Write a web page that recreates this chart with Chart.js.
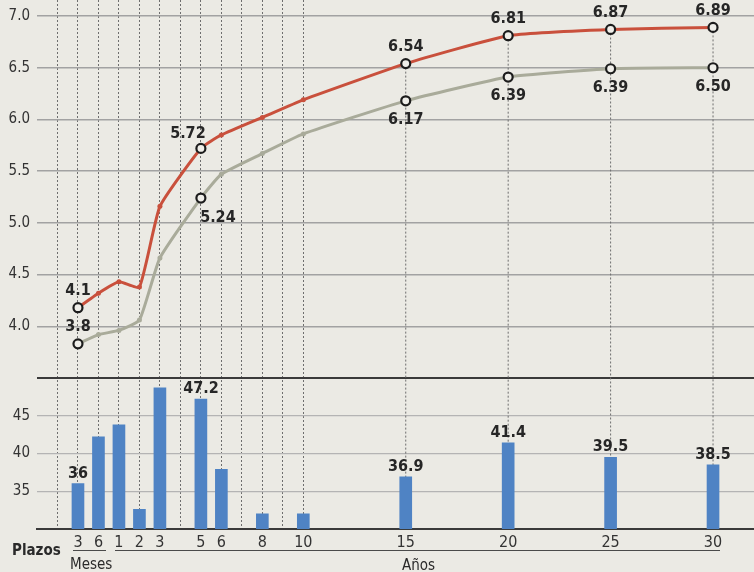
<!DOCTYPE html>
<html>
<head>
<meta charset="utf-8">
<script src="https://cdn.jsdelivr.net/npm/chart.js@4.4.1/dist/chart.umd.min.js"></script>
<style>
  html, body { margin: 0; padding: 0; background: #ebeae4; }
  #wrap { position: relative; width: 754px; height: 572px; color: #2a2a2a;
          font-family: 'Liberation Sans Narrow', 'DejaVu Sans Condensed', 'Liberation Sans', sans-serif; }
  #chart { position: absolute; left: 0; top: 0; }
  .note { position: absolute; font-size: 15px; line-height: 1; white-space: nowrap; }
  .rule { position: absolute; height: 0; border-top: 1.5px solid #4a4a4a; }
</style>
</head>
<body>
<div id="wrap">
  <canvas id="chart" width="754" height="572"></canvas>
  <div class="note" style="left:12px;top:543px;font-weight:bold;">Plazos</div>
  <div class="rule" style="left:73px;top:550px;width:33px"></div>
  <div class="rule" style="left:115px;top:550px;width:605px"></div>
  <div class="note" style="left:70px;top:557px;">Meses</div>
  <div class="note" style="left:402px;top:558px;">Años</div>
</div>
<script>
// plazos: 3 y 6 meses, luego años
const positions  = [-1, 0, 1, 2, 3, 5, 6, 8, 10, 15, 20, 25, 30];
const tickLabels = ['3', '6', '1', '2', '3', '5', '6', '8', '10', '15', '20', '25', '30'];
const gridPositions = [-2, -1, 0, 1, 2, 3, 4, 5, 6, 7, 8, 9, 10, 15, 20, 25, 30];

const rateRed  = [4.18, 4.32, 4.43, 4.38, 5.16, 5.72, 5.85, 6.02, 6.19, 6.54, 6.81, 6.87, 6.89];
const rateGray = [3.83, 3.92, 3.96, 4.06, 4.66, 5.24, 5.47, 5.67, 5.86, 6.18, 6.41, 6.49, 6.50];
const redLabels  = ['4.1', null, null, null, null, '5.72', null, null, null, '6.54', '6.81', '6.87', '6.89'];
const grayLabels = ['3.8', null, null, null, null, '5.24', null, null, null, '6.17', '6.39', '6.39', '6.50'];

const demand = [36, 42.2, 43.8, 32.6, 48.7, 47.2, 37.9, 32.0, 32.0, 36.9, 41.4, 39.5, 38.5];
const demandLabels = ['36', null, null, null, null, '47.2', null, null, null, '36.9', '41.4', '39.5', '38.5'];

const rateTicks = [3.5, 4.0, 4.5, 5.0, 5.5, 6.0, 6.5, 7.0];
const demandTicks = [35, 40, 45];

const RED = '#c9503c';
const GRAY = '#a9ab9a';
const BLUE = '#4f83c4';
const INK = '#262626';
const FONT = "'Liberation Sans Narrow', 'DejaVu Sans Condensed', 'Liberation Sans', sans-serif";

// where each value label sits relative to its point
const redPlace  = ['up', '', '', '', '', 'upleft', '', '', '', 'up', 'up', 'up', 'up'];
const grayPlace = ['up', '', '', '', '', 'downright', '', '', '', 'down', 'down', 'down', 'down'];

const shift = {
  up: [0, -17], down: [0, 19], upleft: [-13, -15], downright: [17, 20], bar: [0, -10]
};

const valueLabels = {
  id: 'valueLabels',
  beforeDatasetsDraw(chart) {
    // dotted guides under the long maturities
    const c = chart.ctx;
    const meta = chart.getDatasetMeta(0);
    c.save();
    c.strokeStyle = '#6e6e6e';
    c.lineWidth = 1;
    c.setLineDash([2, 2]);
    positions.forEach((p, i) => {
      if (p <= 10) return;
      const pt = meta.data[i];
      c.beginPath();
      c.moveTo(pt.x, pt.y);
      c.lineTo(pt.x, chart.chartArea.bottom);
      c.stroke();
    });
    c.restore();
  },
  afterDatasetsDraw(chart) {
    const c = chart.ctx;
    c.save();
    c.font = 'bold 16px ' + FONT;
    c.fillStyle = INK;
    c.textAlign = 'center';
    c.textBaseline = 'middle';
    const draw = (dsIndex, labels, places) => {
      const meta = chart.getDatasetMeta(dsIndex);
      labels.forEach((txt, i) => {
        if (!txt) return;
        const el = meta.data[i];
        const off = shift[places ? places[i] : 'bar'];
        c.fillText(txt, el.x + off[0], el.y + off[1]);
      });
    };
    draw(0, redLabels, redPlace);
    draw(1, grayLabels, grayPlace);
    draw(2, demandLabels, null);
    c.restore();
  }
};

function pointStyle(labels, color) {
  return {
    pointRadius: ctx => labels[ctx.dataIndex] ? 4.5 : 2.5,
    pointBackgroundColor: ctx => labels[ctx.dataIndex] ? '#efeee9' : color,
    pointBorderColor: ctx => labels[ctx.dataIndex] ? '#1c1c1c' : color,
    pointBorderWidth: ctx => labels[ctx.dataIndex] ? 2.2 : 0
  };
}

const ctx = document.getElementById('chart').getContext('2d');
new Chart(ctx, {
  data: {
    datasets: [
      Object.assign({
        type: 'line',
        label: 'Rendimiento A',
        data: positions.map((x, i) => ({ x: x, y: rateRed[i] })),
        yAxisID: 'y',
        borderColor: RED,
        borderWidth: 3,
        tension: 0.15,
        clip: false,
        order: 0
      }, pointStyle(redLabels, RED)),
      Object.assign({
        type: 'line',
        label: 'Rendimiento B',
        data: positions.map((x, i) => ({ x: x, y: rateGray[i] })),
        yAxisID: 'y',
        borderColor: GRAY,
        borderWidth: 3,
        tension: 0.15,
        clip: false,
        order: 1
      }, pointStyle(grayLabels, GRAY)),
      {
        type: 'bar',
        label: 'Demanda',
        data: positions.map((x, i) => ({ x: x, y: demand[i] })),
        yAxisID: 'y2',
        backgroundColor: BLUE,
        barThickness: 12,
        order: 2
      }
    ]
  },
  options: {
    responsive: false,
    animation: false,
    layout: { padding: 0, autoPadding: false },
    plugins: {
      legend: { display: false },
      tooltip: { enabled: false }
    },
    scales: {
      x: {
        type: 'linear',
        min: -3,
        max: 32,
        offset: false,
        afterBuildTicks: s => { s.ticks = gridPositions.map(v => ({ value: v })); },
        ticks: {
          autoSkip: false,
          maxRotation: 0,
          padding: 4,
          color: '#333',
          font: { family: FONT, size: 16 },
          callback: v => {
            const i = positions.indexOf(v);
            return i >= 0 ? tickLabels[i] : '';
          }
        },
        grid: {
          offset: false,
          drawTicks: false,
          lineWidth: 1,
          color: c => (c.tick && c.tick.value > 10) ? 'rgba(0,0,0,0)' : '#6e6e6e'
        },
        border: { display: true, color: '#3a3a3a', width: 2, dash: [2, 2] },
        afterFit: s => { s.height = 43; s.paddingLeft = 0; s.paddingRight = 0; }
      },
      y: {
        type: 'linear',
        position: 'left',
        stack: 'plazos',
        stackWeight: 378,
        weight: 2,
        min: 3.5,
        max: 7.155,
        afterBuildTicks: s => { s.ticks = rateTicks.map(v => ({ value: v })); },
        ticks: {
          padding: 7,
          color: '#333',
          font: { family: FONT, size: 15 },
          callback: v => v === 3.5 ? '' : v.toFixed(1)
        },
        grid: {
          drawTicks: false,
          color: c => (c.tick && c.tick.value === 3.5) ? '#3a3a3a' : '#a2a2a2',
          lineWidth: c => (c.tick && c.tick.value === 3.5) ? 2 : 1.5
        },
        border: { display: false },
        afterFit: s => { s.width = 37; s.paddingTop = 0; s.paddingBottom = 0; }
      },
      y2: {
        type: 'linear',
        position: 'left',
        stack: 'plazos',
        stackWeight: 151,
        weight: 1,
        min: 30,
        max: 50,
        afterBuildTicks: s => { s.ticks = demandTicks.map(v => ({ value: v })); },
        ticks: {
          padding: 7,
          color: '#333',
          font: { family: FONT, size: 15 },
          callback: v => String(v)
        },
        grid: { drawTicks: false, color: '#b4b4b4', lineWidth: 1.2 },
        border: { display: false },
        afterFit: s => { s.width = 37; s.paddingTop = 0; s.paddingBottom = 0; }
      }
    }
  },
  plugins: [valueLabels]
});
</script>
</body>
</html>
